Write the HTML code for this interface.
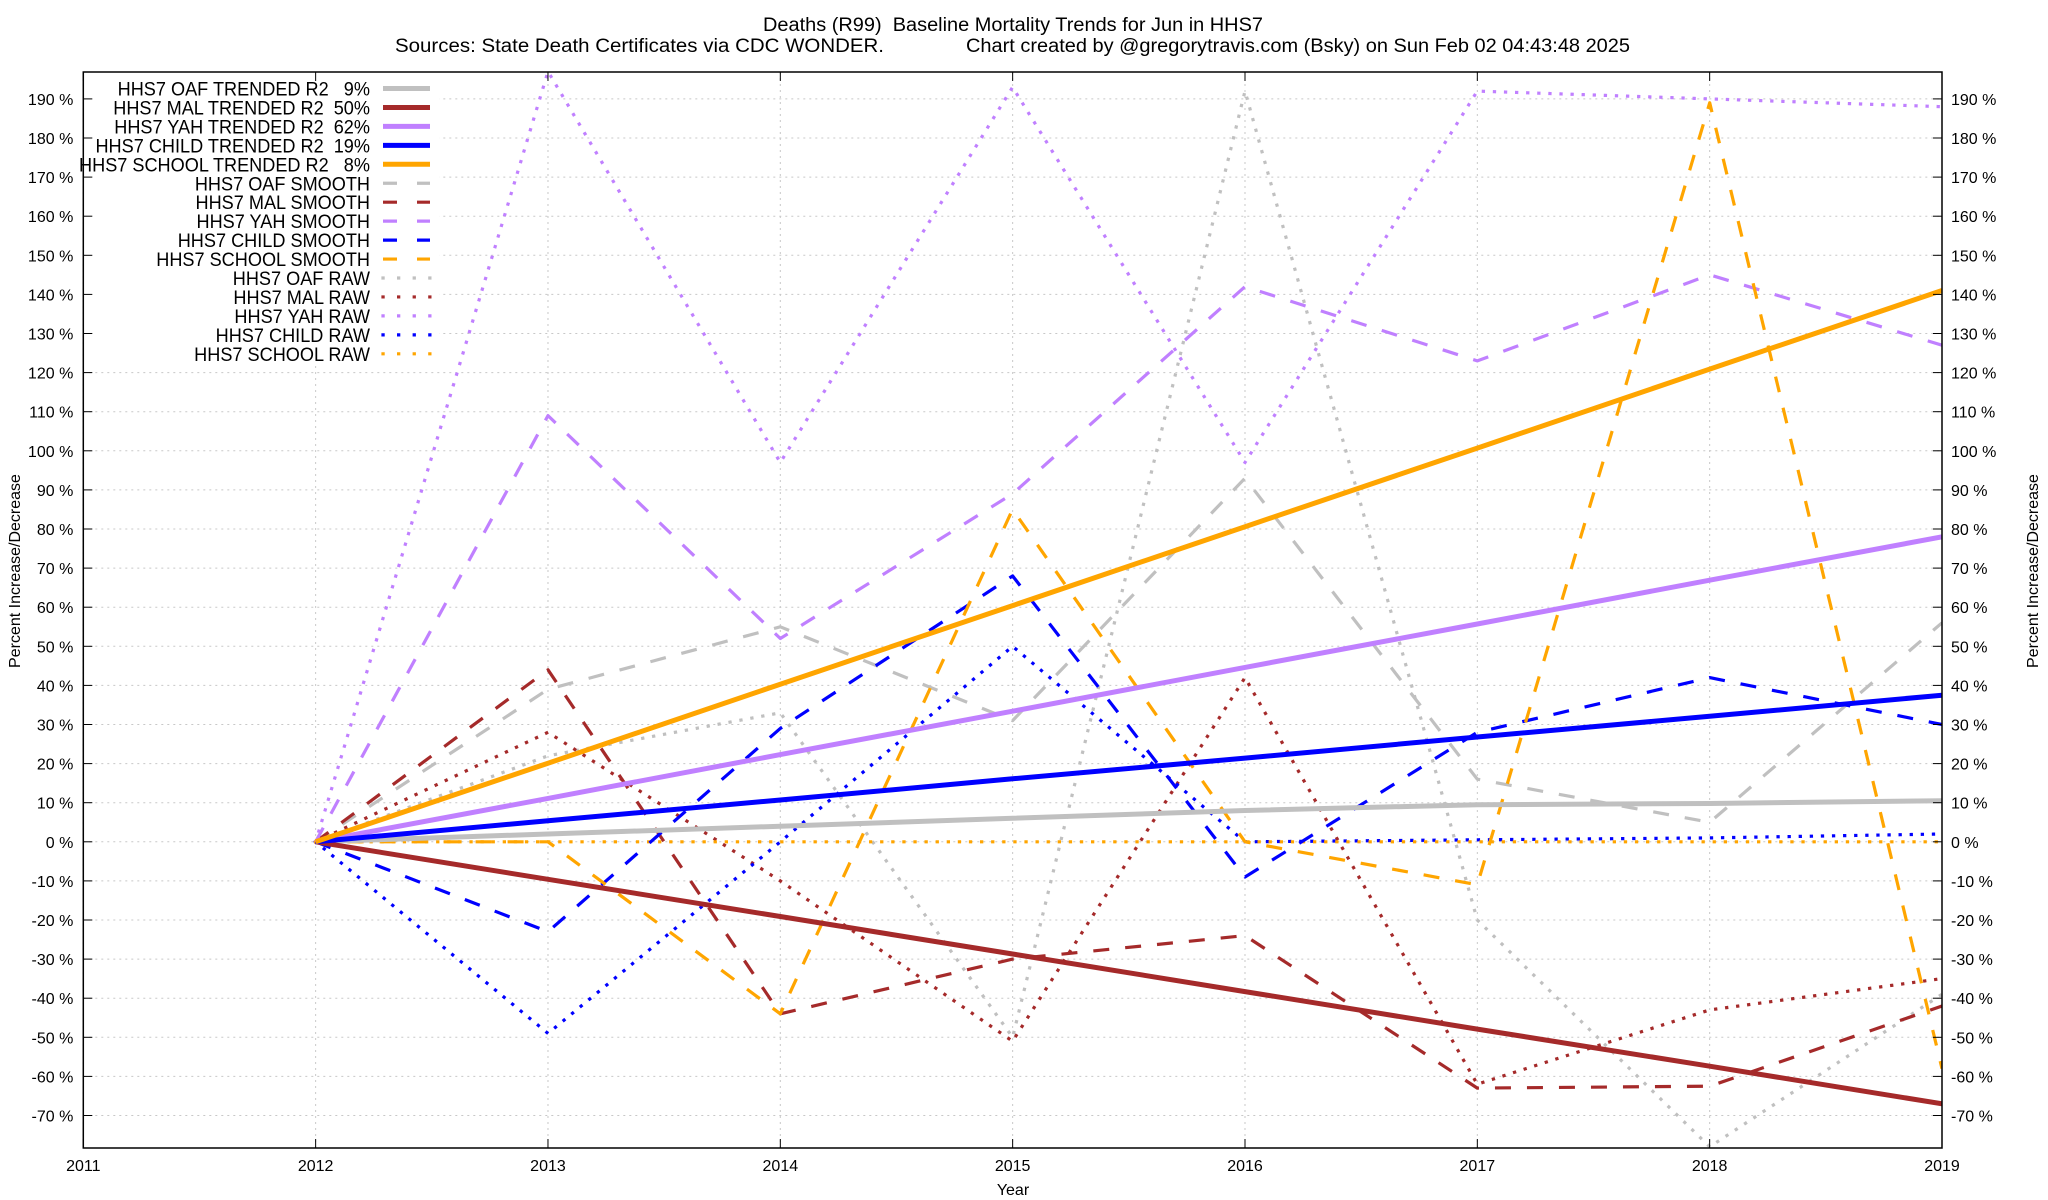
<!DOCTYPE html>
<html><head><meta charset="utf-8"><style>
html,body{margin:0;padding:0;background:#fff;}
svg{display:block;font-family:"Liberation Sans",sans-serif;}
text{white-space:pre;}
</style></head><body>
<svg id="chart" width="2048" height="1200" viewBox="0 0 2048 1200" xmlns="http://www.w3.org/2000/svg">
<rect x="0" y="0" width="2048" height="1200" fill="#fff"/>
<text x="1013" y="31" font-size="19" text-anchor="middle" textLength="500" lengthAdjust="spacingAndGlyphs">Deaths (R99)  Baseline Mortality Trends for Jun in HHS7</text>
<text x="395" y="52" font-size="19" textLength="489" lengthAdjust="spacingAndGlyphs">Sources: State Death Certificates via CDC WONDER.</text>
<text x="966" y="52" font-size="19" textLength="664" lengthAdjust="spacingAndGlyphs">Chart created by @gregorytravis.com (Bsky) on Sun Feb 02 04:43:48 2025</text>
<g id="grid"></g>
<g id="series"></g>
<g id="legend"></g>
<rect x="83.3" y="72" width="1858.7" height="1076" fill="none" stroke="#000" stroke-width="1.5"/>
<g id="axes"></g>
<text x="1013" y="1195" font-size="16" text-anchor="middle">Year</text>
<text x="0" y="0" font-size="16" text-anchor="middle" transform="translate(20,571) rotate(-90)">Percent Increase/Decrease</text>
<text x="0" y="0" font-size="16" text-anchor="middle" transform="translate(2038,571) rotate(-90)">Percent Increase/Decrease</text>
</svg>
<script>
const years = [2012, 2013, 2014, 2015, 2016, 2017, 2018, 2019];
const xTicks = [2011, 2012, 2013, 2014, 2015, 2016, 2017, 2018, 2019];
const yTicks = [-70,-60,-50,-40,-30,-20,-10,0,10,20,30,40,50,60,70,80,90,100,110,120,130,140,150,160,170,180,190];
const oafTrend = [0, 2, 4, 6, 8, 9.5, 9.8, 10.5];
const malTrend = [0, -9.6, -19.1, -28.7, -38.3, -47.9, -57.4, -67];
const yahTrend = [0, 11.1, 22.3, 33.4, 44.6, 55.7, 66.9, 78];
const childTrend = [0, 5.4, 10.7, 16.1, 21.4, 26.8, 32.1, 37.5];
const schoolTrend = [0, 20.1, 40.3, 60.4, 80.6, 100.7, 120.9, 141];
const oafSmooth = [0, 39, 55, 31, 93, 16, 5, 56];
const malSmooth = [0, 44, -44, -30, -24, -63, -62.5, -42];
const yahSmooth = [0, 109, 52, 89, 142, 123, 145, 127];
const childSmooth = [0, -23, 29, 68, -9, 28, 42, 30];
const schoolSmooth = [0, 0, -44, 85, 0, -11, 189, -58];
const oafRaw = [0, 22, 33, -50, 192, -20, -78, -39];
const malRaw = [0, 28, -10, -51, 42, -62, -43, -35];
const yahRaw = [0, 197, 97, 193, 97, 192, 190, 188];
const childRaw = [0, -49, 0, 50, 0, 0.5, 1, 2];
const schoolRaw = [0, 0, 0, 0, 0, 0, 0, 0];
const legendLabels = ["HHS7 OAF TRENDED R2   9%","HHS7 MAL TRENDED R2  50%","HHS7 YAH TRENDED R2  62%","HHS7 CHILD TRENDED R2  19%","HHS7 SCHOOL TRENDED R2   8%","HHS7 OAF SMOOTH","HHS7 MAL SMOOTH","HHS7 YAH SMOOTH","HHS7 CHILD SMOOTH","HHS7 SCHOOL SMOOTH","HHS7 OAF RAW","HHS7 MAL RAW","HHS7 YAH RAW","HHS7 CHILD RAW","HHS7 SCHOOL RAW"];

const NS = "http://www.w3.org/2000/svg";
const L = 83.3, R = 1942, T = 72, B = 1148;
const yZero = 841.8, pxPer = 3.91;
function xs(yr){ return L + (yr - 2011) * (R - L) / 8; }
function ys(v){ return yZero - v * pxPer; }
function mk(tag, attrs, parent){ const e = document.createElementNS(NS, tag); for (const k in attrs) e.setAttribute(k, attrs[k]); parent.appendChild(e); return e; }

const grid = document.getElementById('grid');
const axes = document.getElementById('axes');
yTicks.forEach(v => {
  const y = ys(v);
  const gl = mk('line', {x1:L, x2:R, y1:y, y2:y, stroke:'#c8c8c8', 'stroke-width':1, 'stroke-dasharray':'2 4'}, grid);
  
  
  mk('line', {x1:L, x2:L+9, y1:y, y2:y, stroke:'#000', 'stroke-width':1}, axes);
  mk('line', {x1:R-9, x2:R, y1:y, y2:y, stroke:'#000', 'stroke-width':1}, axes);
  const tl = mk('text', {x:L-10, y:y+6, 'font-size':16, 'text-anchor':'end'}, axes);
  tl.textContent = v + ' %';
  
  
  const tr = mk('text', {x:R+9, y:y+6, 'font-size':16, 'text-anchor':'start'}, axes);
  tr.textContent = v + ' %';
  
  
});
xTicks.forEach(yr => {
  const x = xs(yr);
  const gl = mk('line', {x1:x, x2:x, y1:T, y2:B, stroke:'#c8c8c8', 'stroke-width':1, 'stroke-dasharray':'2 4'}, grid);
  
  
  mk('line', {x1:x, x2:x, y1:B-9, y2:B, stroke:'#000', 'stroke-width':1}, axes);
  mk('line', {x1:x, x2:x, y1:T, y2:T+9, stroke:'#000', 'stroke-width':1}, axes);
  const t = mk('text', {x:x, y:1171, 'font-size':16, 'text-anchor':'middle'}, axes);
  t.textContent = yr;
  
  
});

const colors = {oaf:'#c0c0c0', mal:'#a52a2a', yah:'#c080ff', child:'#0000ff', school:'#ffa500'};
const styles = {
  trend:{w:5, dash:null, cap:'butt'},
  smooth:{w:3.2, dash:'16 16', cap:'butt'},
  raw:{w:3.2, dash:'0.1 11', cap:'square'}
};
const seriesList = [
  ['oaf-raw', oafRaw, colors.oaf, 'raw'],
  ['mal-raw', malRaw, colors.mal, 'raw'],
  ['yah-raw', yahRaw, colors.yah, 'raw'],
  ['child-raw', childRaw, colors.child, 'raw'],
  ['school-raw', schoolRaw, colors.school, 'raw'],
  ['oaf-smooth', oafSmooth, colors.oaf, 'smooth'],
  ['mal-smooth', malSmooth, colors.mal, 'smooth'],
  ['yah-smooth', yahSmooth, colors.yah, 'smooth'],
  ['child-smooth', childSmooth, colors.child, 'smooth'],
  ['school-smooth', schoolSmooth, colors.school, 'smooth'],
  ['oaf-trend', oafTrend, colors.oaf, 'trend'],
  ['mal-trend', malTrend, colors.mal, 'trend'],
  ['yah-trend', yahTrend, colors.yah, 'trend'],
  ['child-trend', childTrend, colors.child, 'trend'],
  ['school-trend', schoolTrend, colors.school, 'trend']
];
const sg = document.getElementById('series');
mk('clipPath', {id:'plotclip'}, sg);
mk('rect', {x:L, y:T, width:R-L, height:B-T}, sg.lastChild);
sg.setAttribute('clip-path', 'url(#plotclip)');
seriesList.forEach(s => {
  const st = styles[s[3]];
  const pts = s[1].map((v, i) => xs(years[i]).toFixed(1) + ',' + ys(v).toFixed(1)).join(' ');
  const a = {points:pts, fill:'none', stroke:s[2], 'stroke-width':st.w, 'stroke-linecap':st.cap, 'stroke-linejoin':'round'};
  if (st.dash) a['stroke-dasharray'] = st.dash;
  const p = mk('polyline', a, sg);
  
  
});

const lg = document.getElementById('legend');
const bg = mk('rect', {x:L+1, y:T+1, width:355, height:290, fill:'#fff'}, lg);


const legendOrder = seriesList.slice(10).concat(seriesList.slice(5,10), seriesList.slice(0,5));
legendLabels.forEach((lab, i) => {
  const y = 88.5 + i * 18.95;
  const s = legendOrder[i];
  const st = styles[s[3]];
  const t = mk('text', {x:0, y:0, 'font-size':19.5, 'text-anchor':'end', transform:'translate(370,' + (y+7) + ') scale(0.93,1)'}, lg);
  t.textContent = lab;
  
  
  const a = {x1:383, x2:430, y1:y, y2:y, stroke:s[2], 'stroke-width':st.w, 'stroke-linecap':st.cap};
  if (s[3] === 'smooth') a['stroke-dasharray'] = '14 20';
  if (s[3] === 'raw') a['stroke-dasharray'] = '0.1 15.5';
  const ln = mk('line', a, lg);
  
  
});
</script>
</body></html>
